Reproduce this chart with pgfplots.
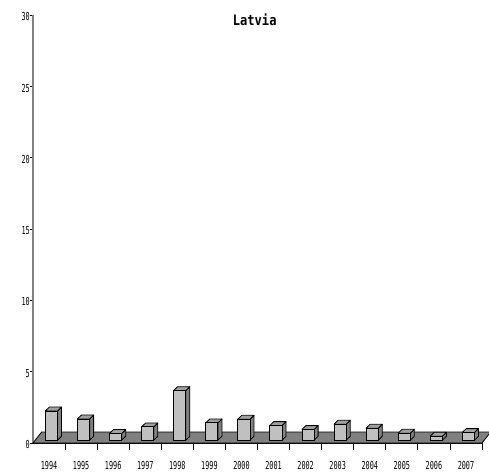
\documentclass[border=0pt]{standalone}
\usepackage{fontspec}
\usepackage{pgfplots}
\usepackage{pgfplotstable}
\pgfplotsset{compat=1.18}
\newfontfamily\tickfont[FakeStretch=0.62]{DejaVu Sans Mono}
\newfontfamily\titlefont[FakeStretch=0.84]{DejaVu Sans Mono}
\definecolor{frontc}{HTML}{C0C0C0}
\definecolor{topc}{HTML}{A0A0A0}
\definecolor{sidec}{HTML}{808080}
\definecolor{floorc}{HTML}{808080}

\pgfplotstableread{
idx val
0 2.05
1 1.49
2 0.47
3 0.93
4 3.48
5 1.21
6 1.47
7 1.03
8 0.75
9 1.12
10 0.84
11 0.49
12 0.28
13 0.54
}\datatable

\pgfplotsset{
  faceline/.style={draw=black, line width=0.8pt, line join=round},
  frontface/.style={faceline, fill=frontc},
  topface/.style={faceline, fill=topc},
  sideface/.style={faceline, fill=sidec},
}

% draws one 3-D bar (front, side, top) in axis coordinates
\newcommand{\tdbar}[2]{%
  \pgfmathsetmacro{\xa}{#1-0.115}%
  \pgfmathsetmacro{\xb}{#1+0.265}%
  \pgfmathsetmacro{\xc}{#1+0.265+0.125}%
  \pgfmathsetmacro{\xd}{#1-0.115+0.125}%
  \pgfmathsetmacro{\ya}{0.2}%
  \pgfmathsetmacro{\yb}{0.2+#2}%
  \pgfmathsetmacro{\yc}{0.2+#2+0.27}%
  \pgfmathsetmacro{\yd}{0.2+0.27}%
  \edef\temp{%
    \noexpand\addplot[sideface] coordinates {(\xb,\ya) (\xc,\yd) (\xc,\yc) (\xb,\yb)} -- cycle;
    \noexpand\addplot[topface] coordinates {(\xa,\yb) (\xd,\yc) (\xc,\yc) (\xb,\yb)} -- cycle;
    \noexpand\addplot[frontface] coordinates {(\xa,\ya) (\xb,\ya) (\xb,\yb) (\xa,\yb)} -- cycle;
  }\temp
}

\begin{document}
\begin{tikzpicture}
\begin{axis}[
  at={(33pt,28pt)}, anchor=south west,
  scale only axis, width=449pt, height=427.8pt,
  xmin=-0.5, xmax=13.5, ymin=0, ymax=30,
  clip=false,
  axis x line=bottom, axis y line=left,
  axis line style={-},
  x axis line style={black, line width=0.8pt},
  y axis line style={draw=gray, line width=1.6pt},
  xtick={0,...,13},
  xticklabels={1994,1995,1996,1997,1998,1999,2000,2001,2002,2003,2004,2005,2006,2007},
  minor xtick={0.5,1.5,...,13.5},
  major x tick style={draw=none},
  minor x tick style={black, line width=0.8pt},
  minor tick length=7pt,
  ytick={0,5,...,30},
  ytick style={black, line width=0.8pt},
  major tick length=3pt,
  tick align=outside,
  /pgf/number format/assume math mode=true,
  ticklabel style={font=\tickfont\fontsize{11}{13}\selectfont, inner sep=0pt},
  yticklabel style={yshift=-1.5pt},
  xticklabel style={yshift=-15pt},
  title={Latvia},
  title style={font=\titlefont\bfseries\fontsize{14.4}{16}\selectfont, at={(0.5,1)}, anchor=north, yshift=-4.3pt, xshift=-2.8pt, inner sep=0pt},
]
\addplot[fill=floorc, draw=black, line width=0.8pt, line join=round]
  coordinates {(-0.5,0) (13.5,0) (13.77,0.77) (-0.23,0.77)} -- cycle;
\pgfplotsinvokeforeach{0,...,13}{%
  \pgfplotstablegetelem{#1}{val}\of\datatable
  \let\barval\pgfplotsretval
  \tdbar{#1}{\barval}
}
\end{axis}
\pgfresetboundingbox
\path[use as bounding box] (0,0) rectangle (489pt,471pt);
\end{tikzpicture}
\end{document}
